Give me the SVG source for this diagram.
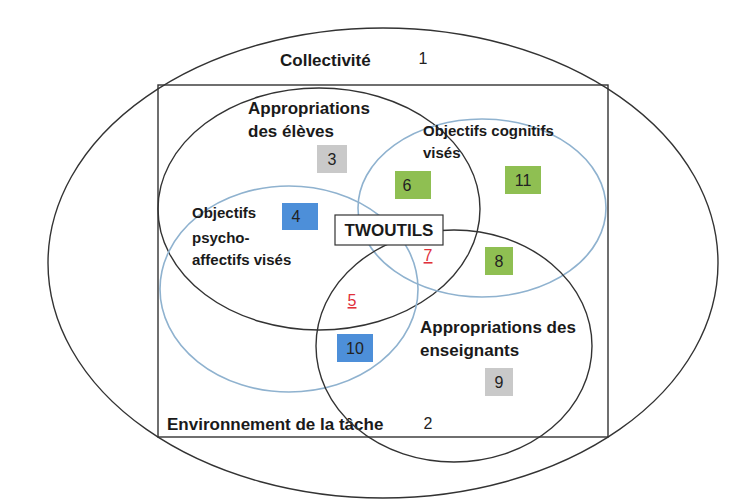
<svg xmlns="http://www.w3.org/2000/svg" width="745" height="499" viewBox="0 0 745 499">
<style>
.blk{fill:none;stroke:#333;stroke-width:1.4}
.blu{fill:none;stroke:#8fb2cf;stroke-width:1.6}
.lbl{font-family:"Liberation Sans",Arial,sans-serif;font-weight:bold;font-size:17px;fill:#1a1a1a}
.sm{font-size:15px}
.num{font-family:"Liberation Sans",Arial,sans-serif;font-size:16px;fill:#222;text-anchor:middle}
.red{fill:#e0303a;text-decoration:underline}
.gray{fill:#c9c9c9}
.green{fill:#8fbf52}
.blue{fill:#4d8fd9}
</style>
<rect width="745" height="499" fill="#fff"/>
<g id="collectivite">
<ellipse class="blk" cx="383" cy="263" rx="335" ry="235"/>
<text class="lbl" x="280" y="66">Collectivité</text>
<text class="num" x="423" y="64">1</text>
</g>
<g id="environnement">
<rect class="blk" x="158" y="85" width="450" height="352"/>
<text class="lbl" x="167" y="430">Environnement de la tâche</text>
<text class="num" x="428" y="429">2</text>
</g>
<g id="eleves">
<ellipse class="blk" cx="319" cy="209" rx="161" ry="121"/>
<text class="lbl" x="248" y="114">Appropriations</text>
<text class="lbl" x="248" y="137">des élèves</text>
</g>
<g id="cognitifs">
<ellipse class="blu" cx="482" cy="208" rx="124" ry="89"/>
<text class="lbl sm" x="423" y="136">Objectifs cognitifs</text>
<text class="lbl sm" x="423" y="158">visés</text>
</g>
<g id="psycho">
<ellipse class="blu" cx="289" cy="289" rx="129" ry="103"/>
<text class="lbl sm" x="192" y="218">Objectifs</text>
<text class="lbl sm" x="192" y="243">psycho-</text>
<text class="lbl sm" x="192" y="265">affectifs visés</text>
</g>
<g id="enseignants">
<ellipse class="blk" cx="454" cy="346" rx="138" ry="116"/>
<text class="lbl" x="420" y="333">Appropriations des</text>
<text class="lbl" x="420" y="356">enseignants</text>
</g>
<g id="twoutils">
<rect x="335" y="215" width="108" height="30" fill="#fff" stroke="#333" stroke-width="1.2"/>
<text class="lbl" x="389" y="236" text-anchor="middle">TWOUTILS</text>
</g>
<g id="n3"><rect class="gray" x="317" y="145" width="30" height="28"/><text class="num" x="332" y="165">3</text></g>
<g id="n4"><rect class="blue" x="282" y="203" width="36" height="27"/><text class="num" x="296" y="222">4</text></g>
<g id="n5"><text class="num red" x="352" y="306">5</text></g>
<g id="n6"><rect class="green" x="395" y="171" width="36" height="28"/><text class="num" x="407" y="191">6</text></g>
<g id="n7"><text class="num red" x="428" y="261">7</text></g>
<g id="n8"><rect class="green" x="485" y="247" width="28" height="28"/><text class="num" x="499" y="267">8</text></g>
<g id="n9"><rect class="gray" x="485" y="368" width="28" height="28"/><text class="num" x="499" y="388">9</text></g>
<g id="n10"><rect class="blue" x="337" y="334" width="36" height="28"/><text class="num" x="355" y="354">10</text></g>
<g id="n11"><rect class="green" x="505" y="166" width="36" height="28"/><text class="num" x="523" y="186">11</text></g>
<g id="connectors"></g>
</svg>
